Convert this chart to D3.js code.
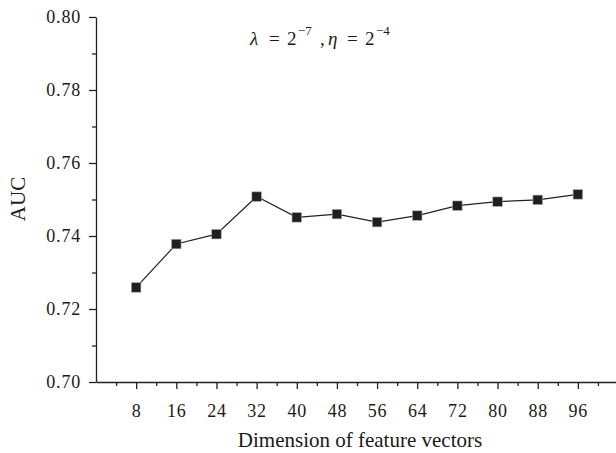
<!DOCTYPE html>
<html>
<head>
<meta charset="utf-8">
<script src="https://cdn.jsdelivr.net/npm/d3@7"></script>
<style>
  html, body { margin: 0; padding: 0; background: #fff; }
  svg { display: block; }
  text { font-family: "Liberation Serif", "Times New Roman", serif; fill: #1a1a1a; }
</style>
</head>
<body>
<svg id="chart" width="616" height="453"></svg>
<script>
const dimensions = [8, 16, 24, 32, 40, 48, 56, 64, 72, 80, 88, 96];
const aucValues = [0.7259, 0.7378, 0.7405, 0.7508, 0.7451, 0.7460, 0.7438, 0.7456, 0.7483, 0.7494, 0.7499, 0.7514];
const xTicks = [8, 16, 24, 32, 40, 48, 56, 64, 72, 80, 88, 96];
const yTicks = [0.70, 0.72, 0.74, 0.76, 0.78, 0.80];
const xLabel = "Dimension of feature vectors";
const yLabel = "AUC";

const svg = d3.select("#chart");
const mLeft = 96, mRight = 616, mTop = 17, mBottom = 382;

const x = d3.scaleLinear().domain([0, 103.6]).range([mLeft, mRight]);
const y = d3.scaleLinear().domain([0.70, 0.80]).range([mBottom, mTop]);

// minor ticks
const xMinor = d3.range(4, 104, 8);
const yMinor = [0.71, 0.73, 0.75, 0.77, 0.79];

const gx = svg.append("g").attr("transform", `translate(0,${mBottom})`);
gx.call(d3.axisBottom(x).tickValues(xTicks).tickFormat(d3.format("d")).tickSize(7).tickSizeOuter(0).tickPadding(15));
gx.append("g").call(d3.axisBottom(x).tickValues(xMinor).tickFormat("").tickSize(4).tickSizeOuter(0))
  .select(".domain").remove();

const gy = svg.append("g").attr("transform", `translate(${mLeft},0)`);
gy.call(d3.axisLeft(y).tickValues(yTicks).tickFormat(d3.format(".2f")).tickSize(7).tickSizeOuter(0).tickPadding(8));
gy.append("g").call(d3.axisLeft(y).tickValues(yMinor).tickFormat("").tickSize(4).tickSizeOuter(0))
  .select(".domain").remove();

svg.selectAll("g").attr("font-family", null);
svg.selectAll(".domain").attr("stroke", "#222").attr("stroke-width", 1.3);
svg.selectAll(".tick line").attr("stroke", "#222").attr("stroke-width", 1.3);
svg.selectAll(".tick text")
  .attr("font-size", 18)
  .attr("letter-spacing", 0.8)
  .attr("fill", "#1a1a1a");

// line
const pts = dimensions.map((d, i) => [d, aucValues[i]]);
svg.append("path")
  .datum(pts)
  .attr("fill", "none")
  .attr("stroke", "#222")
  .attr("stroke-width", 1.2)
  .attr("d", d3.line().x(d => x(d[0])).y(d => y(d[1])));

const ms = 9.5;
svg.selectAll("rect.marker")
  .data(pts)
  .join("rect")
  .attr("class", "marker")
  .attr("x", d => x(d[0]) - ms / 2)
  .attr("y", d => y(d[1]) - ms / 2)
  .attr("width", ms)
  .attr("height", ms)
  .attr("fill", "#1f1f1f")
  .attr("stroke", "#aaa")
  .attr("stroke-width", 0.6);

// axis labels
svg.append("text")
  .attr("x", 360)
  .attr("y", 447)
  .attr("text-anchor", "middle")
  .attr("font-size", 21)
  .text(xLabel);

svg.append("text")
  .attr("transform", `translate(25,199) rotate(-90)`)
  .attr("text-anchor", "middle")
  .attr("font-size", 21)
  .text(yLabel);

// annotation
const annY = 45;
const ann = svg.append("g");
const parts = [
  { t: "λ", x: 250, italic: true },
  { t: "=", x: 269 },
  { t: "2", x: 287 },
  { t: "−7", x: 298, sup: true },
  { t: ",", x: 320 },
  { t: "η", x: 328, italic: true },
  { t: "=", x: 347 },
  { t: "2", x: 365 },
  { t: "−4", x: 376, sup: true }
];
parts.forEach(p => {
  ann.append("text")
    .attr("x", p.x)
    .attr("y", p.sup ? annY - 10 : annY)
    .attr("font-size", p.sup ? 13 : 19)
    .attr("font-style", p.italic ? "italic" : "normal")
    .text(p.t);
});
</script>
</body>
</html>
